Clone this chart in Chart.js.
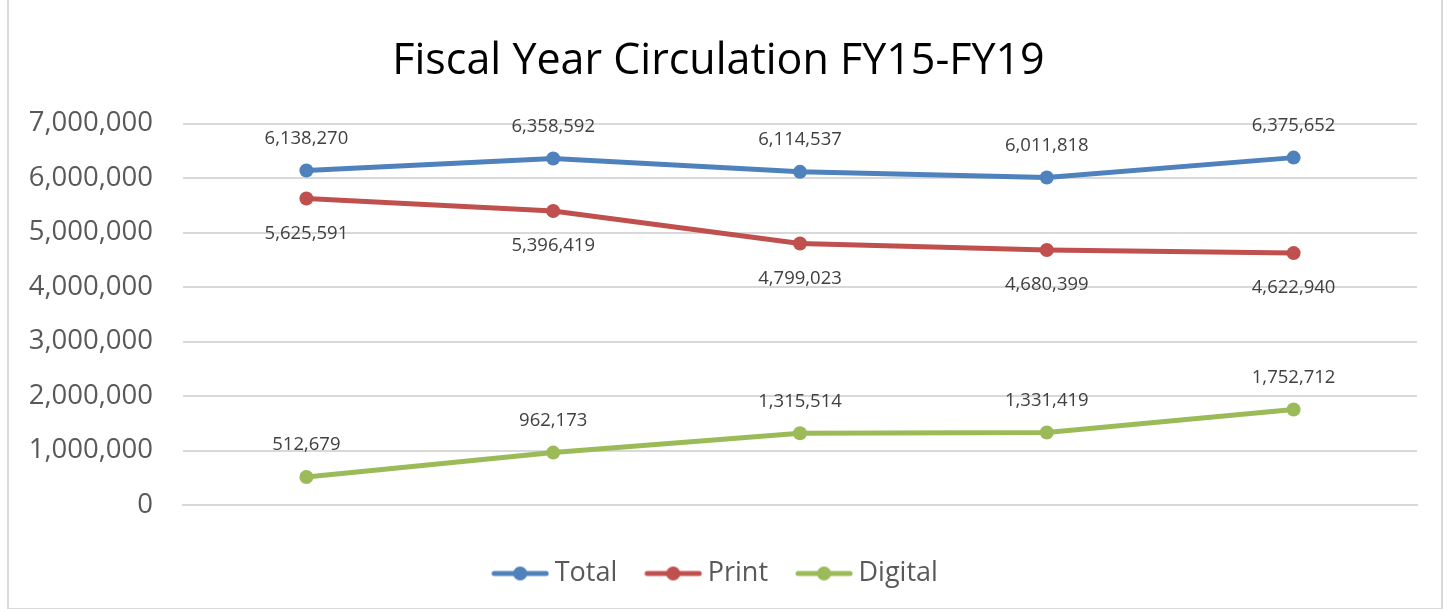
<!DOCTYPE html>
<html>
<head>
<meta charset="utf-8">
<script src="https://cdn.jsdelivr.net/npm/chart.js@4"></script>
<style>
  html, body { margin: 0; padding: 0; background: #fff; }
  #frame {
    position: absolute; left: 7px; top: -2px; width: 1436px; height: 612px;
    border: 2px solid #d9d9d9; box-sizing: border-box;
  }
  #wrap { position: absolute; left: 0; top: 0; width: 1452px; height: 609px; }
</style>
</head>
<body>
<div id="frame"></div>
<div id="wrap"><canvas id="myChart"></canvas></div>
<script>
// fiscal years (no axis labels shown on the original)
var years = ["FY15", "FY16", "FY17", "FY18", "FY19"];
var total = [6138270, 6358592, 6114537, 6011818, 6375652];
var print = [5625591, 5396419, 4799023, 4680399, 4622940];
var digital = [512679, 962173, 1315514, 1331419, 1752712];
var yTicks = [0, 1000000, 2000000, 3000000, 4000000, 5000000, 6000000, 7000000];

var fontName = "'Open Sans', 'Liberation Sans', sans-serif";

// little line+dot icon for the legend
function legendIcon(color) {
    var c = document.createElement('canvas');
    c.width = 58; c.height = 18;
    var g = c.getContext('2d');
    g.strokeStyle = color;
    g.lineWidth = 5;
    g.lineCap = 'round';
    g.beginPath(); g.moveTo(3, 9); g.lineTo(55, 9); g.stroke();
    g.fillStyle = color;
    g.beginPath(); g.arc(29, 9, 7, 0, Math.PI * 2); g.fill();
    return c;
}

// value labels above / below the points
var valueLabels = {
    id: 'valueLabels',
    afterDatasetsDraw: function (chart) {
        var ctx = chart.ctx;
        ctx.save();
        ctx.font = '18.5px ' + fontName;
        ctx.fillStyle = '#404040';
        ctx.textAlign = 'center';
        ctx.textBaseline = 'middle';
        chart.data.datasets.forEach(function (ds, i) {
            var meta = chart.getDatasetMeta(i);
            var off = ds.labelBelow ? 35 : -32;
            meta.data.forEach(function (pt, j) {
                ctx.fillText(ds.data[j].toLocaleString('en-US'), pt.x, pt.y + off);
            });
        });
        ctx.restore();
    }
};

function series(label, data, color, below) {
    return {
        label: label,
        data: data,
        borderColor: color,
        backgroundColor: color,
        borderWidth: 5,
        pointRadius: 7,
        pointHoverRadius: 7,
        pointBorderWidth: 0,
        tension: 0,
        labelBelow: below,
        pointStyle: 'circle',
        legendIcon: legendIcon(color)
    };
}

var context = document.getElementById("myChart").getContext('2d');

new Chart(context, {
    type: 'line',
    data: {
        labels: years,
        datasets: [
            series('Total', total, '#4f81bd', false),
            series('Print', print, '#c0504d', true),
            series('Digital', digital, '#9bbb59', false)
        ]
    },
    plugins: [valueLabels],
    options: {
        responsive: true,
        maintainAspectRatio: false,
        animation: false,
        layout: { padding: { left: 20, right: 35, top: 14, bottom: 12 } },
        plugins: {
            title: {
                display: true,
                text: 'Fiscal Year Circulation FY15-FY19',
                color: '#000',
                font: { family: fontName, size: 43, weight: 'normal' },
                padding: { top: 22, bottom: 36 }
            },
            legend: {
                position: 'bottom',
                labels: {
                    color: '#595959',
                    font: { family: fontName, size: 27 },
                    usePointStyle: true,
                    pointStyleWidth: 42,
                    padding: 35,
                    generateLabels: function (chart) {
                        return chart.data.datasets.map(function (ds, i) {
                            return {
                                text: ds.label,
                                pointStyle: ds.legendIcon,
                                fillStyle: ds.borderColor,
                                strokeStyle: ds.borderColor,
                                lineWidth: 0,
                                fontColor: '#595959',
                                datasetIndex: i,
                                hidden: false
                            };
                        });
                    }
                }
            },
            tooltip: { enabled: false }
        },
        scales: {
            x: {
                offset: true,
                grid: { display: false },
                border: { display: true, color: '#d9d9d9', width: 2 },
                ticks: { display: false },
                afterFit: function (scale) { scale.height = 20; }
            },
            y: {
                min: 0,
                max: 7000000,
                afterBuildTicks: function (scale) {
                    scale.ticks = yTicks.map(function (v) { return { value: v }; });
                },
                afterFit: function (scale) { scale.width = 163; },
                grid: { color: '#d9d9d9', lineWidth: 2, drawTicks: false },
                border: { display: false },
                ticks: {
                    color: '#595959',
                    padding: 30,
                    font: { family: fontName, size: 27.5 },
                    callback: function (v) { return v.toLocaleString('en-US'); }
                }
            }
        }
    }
});
</script>
</body>
</html>
